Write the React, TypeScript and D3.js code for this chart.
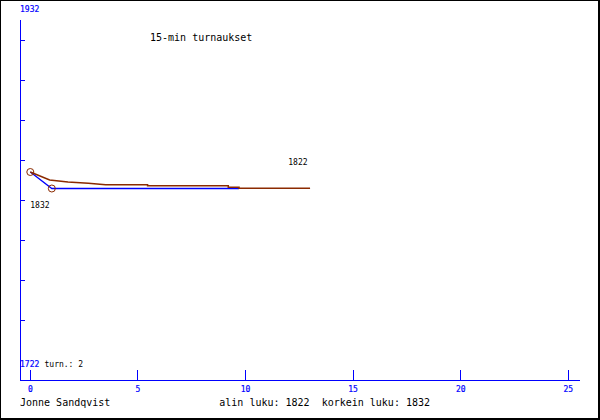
import React from "react";
import * as d3 from "d3";

const title = "15-min turnaukset";
const player = "Jonne Sandqvist";
const yMin = 1722;
const yMax = 1932;
const turnCount = 2;
const xTicks = [0, 5, 10, 15, 20, 25];

// rating (blue) series: game index, rating
const ratingX = [0, 1, 9.7];
const ratingY = [1832, 1822, 1822];

// running-average (brown) series
const avgX = [0, 0.9, 1.75, 2.7, 3.5, 5.45, 5.45, 9.2, 9.2, 9.7, 9.7, 13.0];
const avgY = [1832, 1827.2, 1825.9, 1825.2, 1824.3, 1824.3, 1823.7, 1823.7, 1822.7, 1822.7, 1822.1, 1822.1];

// marked games (circles)
const markX = [0, 1];
const markY = [1832, 1822];

const lowest = 1822;
const highest = 1832;

const W = 600;
const H = 420;
const mono = "'DejaVu Sans Mono', monospace";
const BLUE = "#0000ff";
const BROWN = "#8b2a00";

export default function App() {
  const x = d3.scaleLinear().domain([0, 25]).range([30.3, 568.3]);
  const y = d3.scaleLinear().domain([yMin, yMax]).range([353.5, 7]);
  const axisLeft = 20;
  const axisTop = 20;
  const axisBottom = 380;
  const axisRight = 580;
  const yTickPx = d3.range(40, 340, 40);

  const line = d3
    .line<[number, number]>()
    .x((d) => x(d[0]))
    .y((d) => y(d[1]));

  const ratingPts = ratingX.map((v, i) => [v, ratingY[i]] as [number, number]);
  const avgPts = avgX.map((v, i) => [v, avgY[i]] as [number, number]);

  return (
    <svg
      width={W}
      height={H}
      style={{ position: "fixed", left: 0, top: 0, background: "#fff" }}
    >
      <rect x={0} y={0} width={W - 1} height={H - 1} fill="#fff" stroke="#000" strokeWidth={2} />

      {/* axes */}
      <line x1={axisLeft} y1={axisTop} x2={axisLeft} y2={axisBottom} stroke={BLUE} strokeWidth={1} shapeRendering="crispEdges" />
      <line x1={axisLeft} y1={axisBottom} x2={axisRight} y2={axisBottom} stroke={BLUE} strokeWidth={1} shapeRendering="crispEdges" />
      {yTickPx.map((p) => (
        <line key={p} x1={axisLeft} x2={axisLeft + 5} y1={p} y2={p} stroke={BLUE} shapeRendering="crispEdges" />
      ))}
      {xTicks.map((t) => (
        <g key={t}>
          <line x1={x(t)} x2={x(t)} y1={axisBottom - 10} y2={axisBottom} stroke={BLUE} shapeRendering="crispEdges" />
          <text x={x(t)} y={392} fontFamily={mono} fontSize={8} fill={BLUE} textAnchor="middle" stroke={BLUE} strokeWidth={0.2}>
            {t}
          </text>
        </g>
      ))}
      <text x={20} y={12} fontFamily={mono} fontSize={8} fill={BLUE} stroke={BLUE} strokeWidth={0.2}>
        {yMax}
      </text>
      <text x={20} y={367} fontFamily={mono} fontSize={8} fill={BLUE} stroke={BLUE} strokeWidth={0.2}>
        {yMin}
      </text>
      <text x={44.5} y={367} fontFamily={mono} fontSize={8} fill="#000">
        {`turn.: ${turnCount}`}
      </text>

      {/* series */}
      <path d={line(ratingPts) || ""} fill="none" stroke={BLUE} strokeWidth={1.3} />
      <path d={line(avgPts) || ""} fill="none" stroke={BROWN} strokeWidth={1.5} />
      {markX.map((v, i) => (
        <circle key={i} cx={x(v)} cy={y(markY[i])} r={3.5} fill="none" stroke={BROWN} strokeWidth={1} />
      ))}

      {/* value labels */}
      <text x={x(0)} y={208} fontFamily={mono} fontSize={8} fill="#000">
        {highest}
      </text>
      <text x={288.3} y={165} fontFamily={mono} fontSize={8} fill="#000">
        {lowest}
      </text>

      {/* title & footer */}
      <text x={150} y={41.3} fontFamily={mono} fontSize={10} fill="#000">
        {title}
      </text>
      <text x={20} y={405.5} fontFamily={mono} fontSize={10} fill="#000">
        {player}
      </text>
      <text x={219.3} y={405.5} fontFamily={mono} fontSize={10} fill="#000" style={{ whiteSpace: "pre" }}>
        {`alin luku: ${lowest}  korkein luku: ${highest}`}
      </text>
    </svg>
  );
}
